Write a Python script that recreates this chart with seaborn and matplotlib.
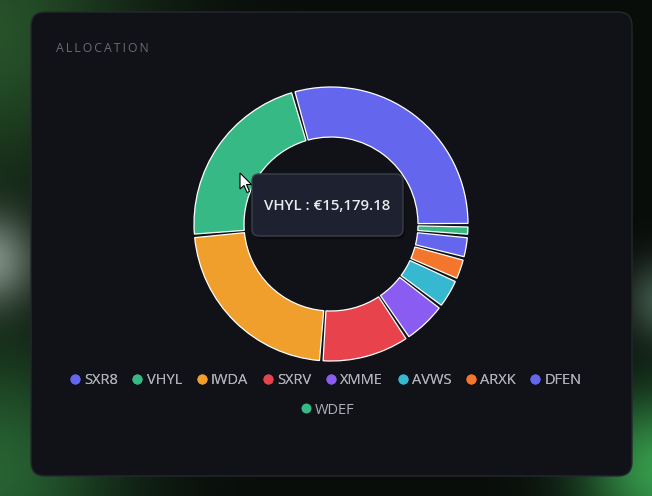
import numpy as np
import matplotlib
matplotlib.use("Agg")
import matplotlib.pyplot as plt
from matplotlib.patches import FancyBboxPatch, Polygon
from matplotlib.lines import Line2D
import seaborn as sns

# data (values in EUR)
tickers = ["SXR8", "VHYL", "IWDA", "SXRV", "XMME", "AVWS", "ARXK", "DFEN", "WDEF"]
values = [20460, 15179.18, 15560, 7300, 3650, 2500, 1830, 1830, 870]
hex_colors = ["#6467ee", "#37b986", "#f09f2c", "#e8434c", "#8b5cf1",
              "#35b8d0", "#f4762d", "#6467ee", "#37b986"]
tooltip_label = "VHYL : €15,179.18"
title = "ALLOCATION"

sns.set_style("white")
plt.rcParams["font.family"] = ["Open Sans", "DejaVu Sans"]
colors = sns.color_palette(hex_colors)

W, H = 652, 496
fig = plt.figure(figsize=(W / 100, H / 100), dpi=100)

# page background with soft glows
bg = fig.add_axes([0, 0, 1, 1])
yy, xx = np.mgrid[0:H, 0:W]
img = np.zeros((H, W, 3)) + np.array([9, 13, 10]) / 255
def glow(cx, cy, s, rgb):
    g = np.exp(-(((xx - cx) ** 2 + (yy - cy) ** 2) / (2 * s ** 2)))
    return g[..., None] * np.array(rgb) / 255
img += glow(-20, 30, 110, [30, 70, 32])
img += glow(-10, 260, 32, [110, 115, 112])
img += glow(-10, 470, 90, [30, 85, 40])
img += glow(660, 470, 55, [45, 140, 65])
img += glow(665, 300, 28, [55, 75, 65])
bg.imshow(np.clip(img, 0, 1), extent=(0, W, H, 0), aspect="auto")
bg.set_xlim(0, W)
bg.set_ylim(H, 0)
bg.axis("off")
card = FancyBboxPatch((31, 12), 601, 464, boxstyle="round,pad=0,rounding_size=14",
                      facecolor="#111217", edgecolor="#25282e", linewidth=1)
bg.add_patch(card)
bg.text(56, 48, "\u2009".join(title), color="#676b73", fontsize=8.8,
        ha="left", va="center")

# donut
R = 137
ax = fig.add_axes([(331 - 140) / W, (H - 224 - 140) / H, 280 / W, 280 / H])
wedges, _ = ax.pie(values, colors=colors, startangle=-0.5, counterclock=True,
                   radius=1, wedgeprops=dict(width=0.365, edgecolor="white",
                                             linewidth=0.9))
gap = 0.75
for w in wedges:
    w.set_theta1(w.theta1 + gap)
    w.set_theta2(w.theta2 - gap)
lim = 140 / R
ax.set_xlim(-lim, lim)
ax.set_ylim(-lim, lim)
ax.set_aspect("equal")
ax.axis("off")

# legend (chart.js style, last row centred)
handles = [Line2D([], [], marker="o", linestyle="", markersize=7.2,
                  markerfacecolor=c, markeredgewidth=0) for c in colors]
leg_kw = dict(frameon=False, handletextpad=0.2, columnspacing=0.88,
              fontsize=10.5, labelcolor="#aeb1b7", handlelength=0.9,
              borderaxespad=0, borderpad=0)
leg1 = fig.legend(handles[:8], tickers[:8], ncol=8, loc="center",
                  bbox_to_anchor=(325 / W, (H - 381) / H), **leg_kw)
fig.add_artist(leg1)
fig.legend(handles[8:], tickers[8:], ncol=1, loc="center",
           bbox_to_anchor=(327 / W, (H - 410) / H), **leg_kw)

# tooltip and pointer on top
top = fig.add_axes([0, 0, 1, 1], zorder=10)
top.set_xlim(0, W)
top.set_ylim(H, 0)
top.axis("off")
top.patch.set_alpha(0)
top.add_patch(FancyBboxPatch((254, 177), 151, 62, boxstyle="round,pad=0,rounding_size=7",
                             facecolor="#000000", alpha=0.35, edgecolor="none"))
top.add_patch(FancyBboxPatch((252, 174), 151, 62, boxstyle="round,pad=0,rounding_size=7",
                             facecolor="#1e2230", edgecolor="#3a3f4c", linewidth=1))
top.text(327.5, 206.5, tooltip_label, color="#e8eaee", fontsize=10.8, weight="semibold",
         ha="center", va="center")
cursor = [(240, 173), (240, 189), (244, 185.5), (247, 192.5), (249.5, 191.5),
          (246.5, 184.5), (251.5, 184.5)]
top.add_patch(Polygon(cursor, closed=True, facecolor="white", edgecolor="black",
                      linewidth=0.8))

plt.savefig("out.png", dpi=100, facecolor=fig.get_facecolor())
